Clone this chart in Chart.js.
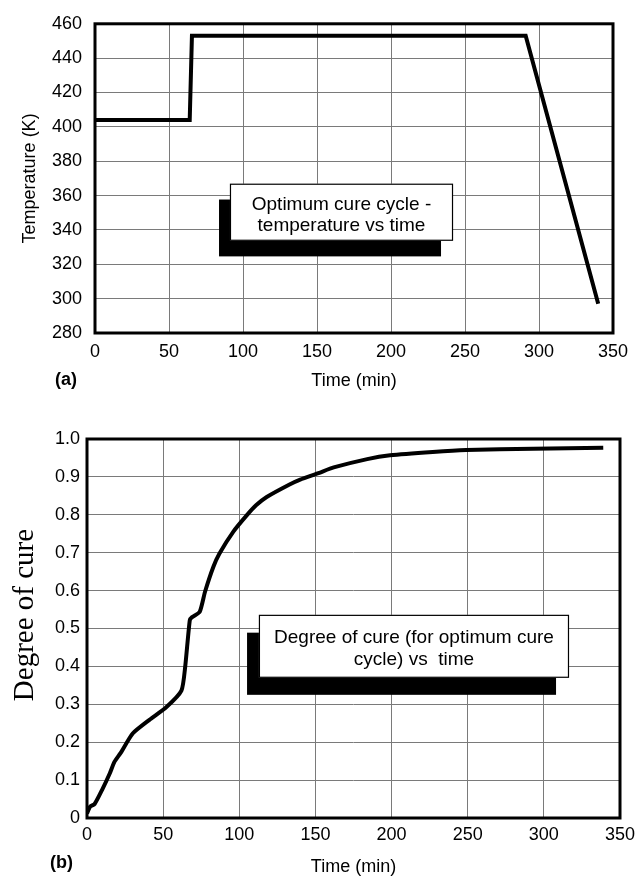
<!DOCTYPE html>
<html><head><meta charset="utf-8">
<script src="https://cdn.jsdelivr.net/npm/chart.js@4.4.0/dist/chart.umd.min.js"></script>
<style>
html,body{margin:0;padding:0;background:#fff;}
#wrap{position:relative;width:642px;height:878px;overflow:hidden;background:#fff;}
#c1{position:absolute;left:0;top:0;}
#c2{position:absolute;left:0;top:420px;}
</style></head><body>
<div id="wrap"><canvas id="c1" width="642" height="420"></canvas><canvas id="c2" width="642" height="458"></canvas></div>
<script>
// ---- data ----
const timeTicks = [0, 50, 100, 150, 200, 250, 300, 350];
const tempTicks = [280, 300, 320, 340, 360, 380, 400, 420, 440, 460];
const cureTicks = [0, 0.1, 0.2, 0.3, 0.4, 0.5, 0.6, 0.7, 0.8, 0.9, 1.0];

const tempTime   = [0, 64, 65.5, 291, 340];
const tempValues = [404, 404, 453, 453, 297];

const cureTime   = [0, 2, 5, 10, 15, 18, 22, 30, 41, 52, 62, 64.5, 67.5, 69, 74, 77.5, 83, 87, 96, 105, 111, 118, 133, 140, 152, 162, 184, 199, 227, 249, 293, 339];
const cureValues = [0.012, 0.03, 0.037, 0.075, 0.118, 0.148, 0.171, 0.223, 0.259, 0.292, 0.336, 0.40, 0.522, 0.53, 0.544, 0.597, 0.663, 0.698, 0.755, 0.799, 0.825, 0.847, 0.880, 0.893, 0.910, 0.925, 0.947, 0.957, 0.966, 0.971, 0.974, 0.977];

const titleA = 'Temperature (K)';
const titleB = 'Degree of cure';
const xTitle = 'Time (min)';
const noteA = ['Optimum cure cycle -', 'temperature vs time'];
const noteB = ['Degree of cure (for optimum cure', 'cycle) vs  time'];

const SANS = "'Liberation Sans', Arial, Helvetica, sans-serif";
const SERIF = "'Liberation Serif', 'Times New Roman', serif";

function pts(xs, ys){ return xs.map((x,i)=>({x:x, y:ys[i]})); }

const framePlugin = {
  id: 'frame',
  afterDraw(chart, args, o) {
    const ctx = chart.ctx, a = chart.chartArea;
    const xs = chart.scales.x, ys = chart.scales.y;
    ctx.save();
    const b = o.box;
    const sx1 = xs.getPixelForValue(b.sx[0]), sx2 = xs.getPixelForValue(b.sx[1]);
    const sy1 = ys.getPixelForValue(b.sy[0]), sy2 = ys.getPixelForValue(b.sy[1]);
    ctx.fillStyle = '#000';
    ctx.fillRect(sx1, sy1, sx2 - sx1, sy2 - sy1);
    const bx1 = xs.getPixelForValue(b.bx[0]), bx2 = xs.getPixelForValue(b.bx[1]);
    const by1 = ys.getPixelForValue(b.by[0]), by2 = ys.getPixelForValue(b.by[1]);
    ctx.fillStyle = '#fff';
    ctx.fillRect(bx1, by1, bx2 - bx1, by2 - by1);
    ctx.strokeStyle = '#000';
    ctx.lineWidth = 1.2;
    ctx.strokeRect(bx1 + 0.5, by1 + 0.5, bx2 - bx1 - 1, by2 - by1 - 1);
    ctx.fillStyle = '#000';
    ctx.font = '19px ' + SANS;
    ctx.textAlign = 'center';
    ctx.textBaseline = 'middle';
    const cx = (bx1 + bx2) / 2;
    b.lines.forEach((t, i) => ctx.fillText(t, cx, by1 + b.ly[i]));
    ctx.lineWidth = 3;
    ctx.strokeRect(a.left, a.top, a.right - a.left, a.bottom - a.top);
    ctx.font = 'bold 18px ' + SANS;
    ctx.textAlign = 'left';
    ctx.fillText(o.letter.text, o.letter.x, o.letter.y);
    if (o.ytitle) {
      ctx.save();
      ctx.translate(o.ytitle.x, o.ytitle.y);
      ctx.rotate(-Math.PI / 2);
      ctx.font = o.ytitle.font;
      ctx.textAlign = 'center';
      ctx.textBaseline = 'alphabetic';
      ctx.fillText(o.ytitle.text, 0, 0);
      ctx.restore();
    }
    ctx.restore();
  }
};

Chart.defaults.font.family = SANS;
Chart.defaults.color = '#000';

function baseOptions(cfg) {
  return {
    responsive: false,
    animation: false,
    devicePixelRatio: 1,
    layout: { padding: { left: 0, top: cfg.padTop, right: cfg.padRight, bottom: 0 } },
    plugins: {
      legend: { display: false },
      tooltip: { enabled: false },
      frame: cfg.frame
    },
    elements: { point: { radius: 0 } },
    scales: {
      x: {
        type: 'linear', min: 0, max: 350,
        afterBuildTicks: s => { s.ticks = timeTicks.map(v => ({ value: v })); },
        afterFit: s => { s.height = cfg.xHeight; },
        grid: { color: '#7a7a7a', lineWidth: 1, drawTicks: false },
        border: { display: false },
        ticks: { font: { size: 18 }, padding: cfg.xPad, maxRotation: 0, color: '#000' },
        title: { display: true, text: xTitle, font: { size: 18 }, color: '#000', padding: { top: 0, bottom: cfg.xTitlePad } }
      },
      y: {
        type: 'linear', min: cfg.ymin, max: cfg.ymax,
        afterBuildTicks: s => { s.ticks = cfg.yTicks.map(v => ({ value: v })); },
        afterFit: s => { s.width = cfg.yWidth; },
        grid: { color: '#7a7a7a', lineWidth: 1, drawTicks: false },
        border: { display: false },
        ticks: { font: { size: 18 }, padding: cfg.yPad, color: '#000', callback: cfg.yFmt },
        title: cfg.yTitle
      }
    }
  };
}

new Chart(document.getElementById('c1'), {
  type: 'line',
  data: { datasets: [{ data: pts(tempTime, tempValues), borderColor: '#000', borderWidth: 4, tension: 0, fill: false, borderJoinStyle: 'miter' }] },
  options: baseOptions({
    padTop: 18, padRight: 29, xHeight: 87, yWidth: 95, xPad: 8, xTitlePad: 28, yPad: 13,
    ymin: 280, ymax: 460, yTicks: tempTicks, yFmt: v => String(v),
    yTitle: { display: true, text: titleA, font: { size: 18 }, color: '#000', padding: { top: 19, bottom: 0 } },
    frame: {
      box: { bx: [91.2, 241.9], by: [366.9, 333.7], sx: [83.8, 233.8], sy: [357.7, 324.6], lines: noteA, ly: [21, 42] },
      letter: { text: '(a)', x: 55, y: 380 }
    }
  }),
  plugins: [framePlugin]
});

new Chart(document.getElementById('c2'), {
  type: 'line',
  data: { datasets: [{ data: pts(cureTime, cureValues), borderColor: '#000', borderWidth: 4, tension: 0.2, fill: false, borderJoinStyle: 'round' }] },
  options: baseOptions({
    padTop: 19, padRight: 22, xHeight: 60, yWidth: 87, xPad: 6, xTitlePad: 0, yPad: 7,
    ymin: 0, ymax: 1, yTicks: cureTicks, yFmt: v => (v === 0 ? '0' : v.toFixed(1)),
    yTitle: { display: false },
    frame: {
      box: { bx: [112.9, 316.5], by: [0.536, 0.370], sx: [105.1, 308], sy: [0.489, 0.325], lines: noteB, ly: [23, 45] },
      letter: { text: '(b)', x: 50, y: 443 },
      ytitle: { text: titleB, x: 33, y: 195, font: '29px ' + SERIF }
    }
  }),
  plugins: [framePlugin]
});
</script>
</body></html>
